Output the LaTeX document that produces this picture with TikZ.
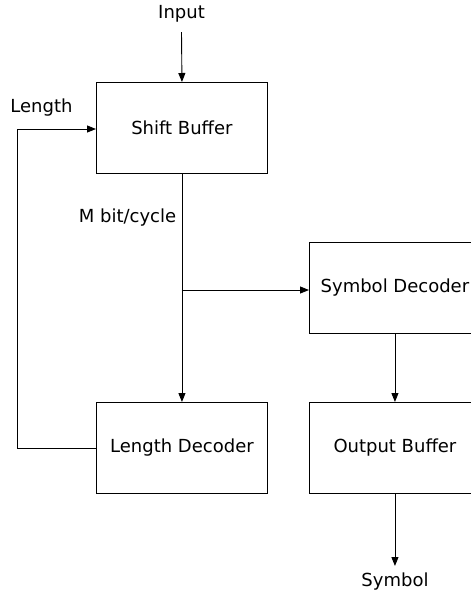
\documentclass[tikz,border=0pt]{standalone}
\usepackage{fontspec}
\setmainfont{DejaVu Sans}
\usetikzlibrary{arrows.meta}
\begin{document}
\begin{tikzpicture}[x=1pt,y=-1pt,
  blk/.style={draw, line width=0.9pt, minimum width=171pt, minimum height=91pt,
    inner sep=0pt, anchor=north west, font=\fontsize{18}{21}\selectfont},
  lbl/.style={font=\fontsize{18}{21}\selectfont, inner sep=0pt},
  wire/.style={line width=0.9pt},
  arr/.style={wire, -{Triangle[length=9pt,width=7pt]}}]
\useasboundingbox (0,0) rectangle (471,598);
\clip (0,0) rectangle (471,598);
% blocks
\node[blk] (sb) at (96,82) {Shift Buffer};
\node[blk] (ld) at (96,402) {Length Decoder};
\node[blk] (sd) at (309,242) {Symbol Decoder};
\node[blk] (ob) at (309,402) {Output Buffer};
% free labels
\node[lbl] (in) at (181.5,14) {Input};
\node[lbl] (len) at (41.5,108) {Length};
\node[lbl] (mb) at (127.5,218) {M bit/cycle};
\node[lbl] (sym) at (395,582) {Symbol};
\coordinate (inp) at (181.5,32);
\coordinate (br) at (181.5,290);
\coordinate (fb) at (17,129);
\coordinate (out) at (395,566);
% connectors
\draw[arr] (inp) -- (sb.north);
\draw[arr] (sb.south) -- (ld.north);
\draw[arr] (br) -- (sd.west |- br);
\draw[arr] (ld.west) -| (fb) -- (sb.west |- fb);
\draw[arr] (sd.south) -- (ob.north);
\draw[arr] (ob.south) -- (ob.south |- out);
\end{tikzpicture}
\end{document}
